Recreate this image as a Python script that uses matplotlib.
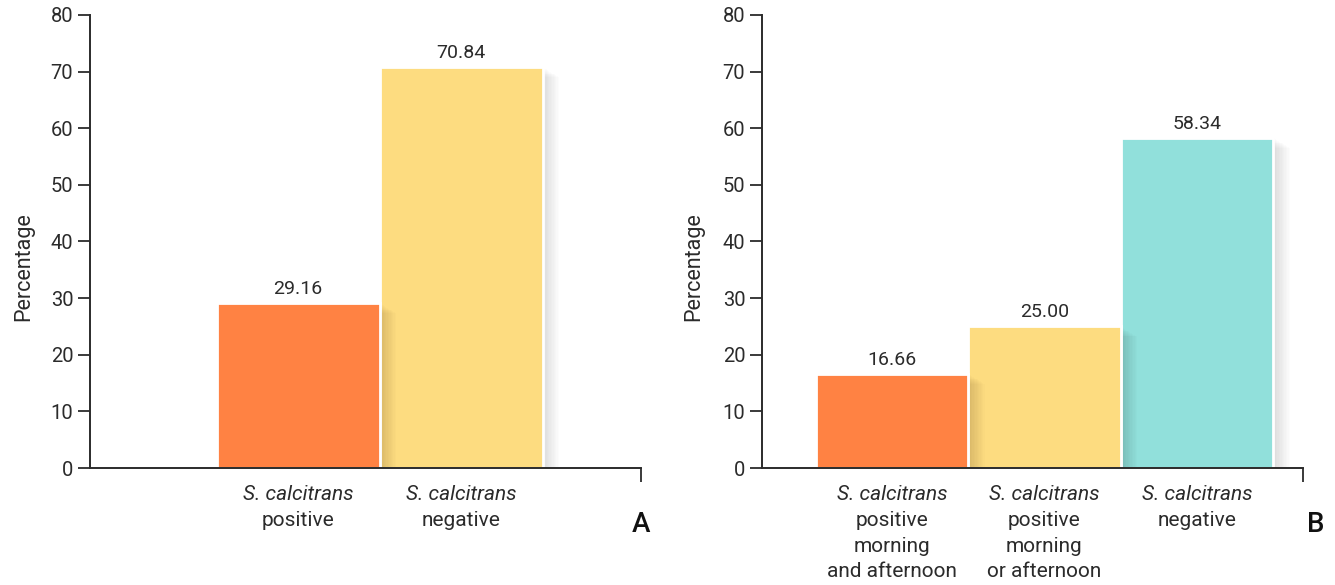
import matplotlib
matplotlib.use("Agg")
import matplotlib.pyplot as plt
import matplotlib.patheffects as pe

plt.rcParams['font.family'] = ['Roboto', 'DejaVu Sans']

# ---- data ----
cats_a = ["S. calcitrans\npositive", "S. calcitrans\nnegative"]
vals_a = [29.16, 70.84]
labels_a = ["29.16", "70.84"]
colors_a = ["#FF8243", "#FDDC80"]

cats_b = ["S. calcitrans\npositive\nmorning\nand afternoon",
          "S. calcitrans\npositive\nmorning\nor afternoon",
          "S. calcitrans\nnegative"]
vals_b = [16.66, 25.00, 58.34]
labels_b = ["16.66", "25.00", "58.34"]
colors_b = ["#FF8243", "#FDDC80", "#91E0DB"]

yticks = [0, 10, 20, 30, 40, 50, 60, 70, 80]

TXT = "#2b2b2b"
W, H = 1335, 585
fig = plt.figure(figsize=(W / 100, H / 100), dpi=100)

ax_a = fig.add_axes([90 / W, 117 / H, 551 / W, 453 / H])
ax_b = fig.add_axes([762 / W, 117 / H, 541 / W, 453 / H])


def draw(ax, cats, vals, labels, colors, xlim, ylab_x):
    xs = list(range(len(vals)))
    shadow = [pe.SimplePatchShadow(offset=(o, -0.6 * o), shadow_rgbFace='black', alpha=0.011)
              for o in range(1, 13)] + [pe.Normal()]
    order = list(reversed(xs))
    for i in order:
        b = ax.bar(xs[i], vals[i], width=1.0, color=colors[i], edgecolor='white',
                   linewidth=2, zorder=1 + (len(xs) - i) * 0.01)
        for p in b:
            p.set_path_effects(shadow)
    for i in xs:
        ax.annotate(labels[i], xy=(xs[i], vals[i]), xytext=(0, 5),
                    textcoords='offset pixels', ha='center', va='bottom',
                    fontsize=14, color=TXT)
        lines = cats[i].split("\n")
        for j, line in enumerate(lines):
            ax.annotate(line, xy=(xs[i], 0), xycoords=('data', 'axes fraction'),
                        xytext=(0, -27 - 25.5 * j), textcoords='offset pixels',
                        ha='center', va='center', fontsize=15, color=TXT,
                        style='italic' if j == 0 else 'normal',
                        annotation_clip=False)
    ax.set_xlim(*xlim)
    ax.set_ylim(0, 80)
    ax.set_yticks(yticks)
    ax.set_yticklabels([str(t) for t in yticks])
    ax.set_xticks([])
    ax.set_xticks([xlim[1]], minor=True)
    ax.tick_params(axis='x', which='minor', length=10, width=1.3, color=TXT,
                   labelbottom=False)
    ax.tick_params(axis='y', length=9, width=1.3, color=TXT, labelsize=14.5,
                   labelcolor=TXT, pad=3)
    for s in ('top', 'right'):
        ax.spines[s].set_visible(False)
    for s in ('left', 'bottom'):
        ax.spines[s].set_color(TXT)
        ax.spines[s].set_linewidth(1.4)
        ax.spines[s].set_zorder(5)
    fig.text(ylab_x / W, 1 - 267 / H, "Percentage", rotation=90, ha='center',
             va='center', fontsize=15.5, color=TXT)


draw(ax_a, cats_a, vals_a, labels_a, colors_a, (-1.276, 2.104), 24)
draw(ax_b, cats_b, vals_b, labels_b, colors_b, (-0.852, 2.695), 694)

fig.text(641 / W, 1 - 525 / H, "A", ha='center', va='center', fontsize=20,
         color='#111', fontweight='medium')
fig.text(1316 / W, 1 - 525 / H, "B", ha='center', va='center', fontsize=20,
         color='#111', fontweight='medium')

fig.savefig("out.png", dpi=100)
